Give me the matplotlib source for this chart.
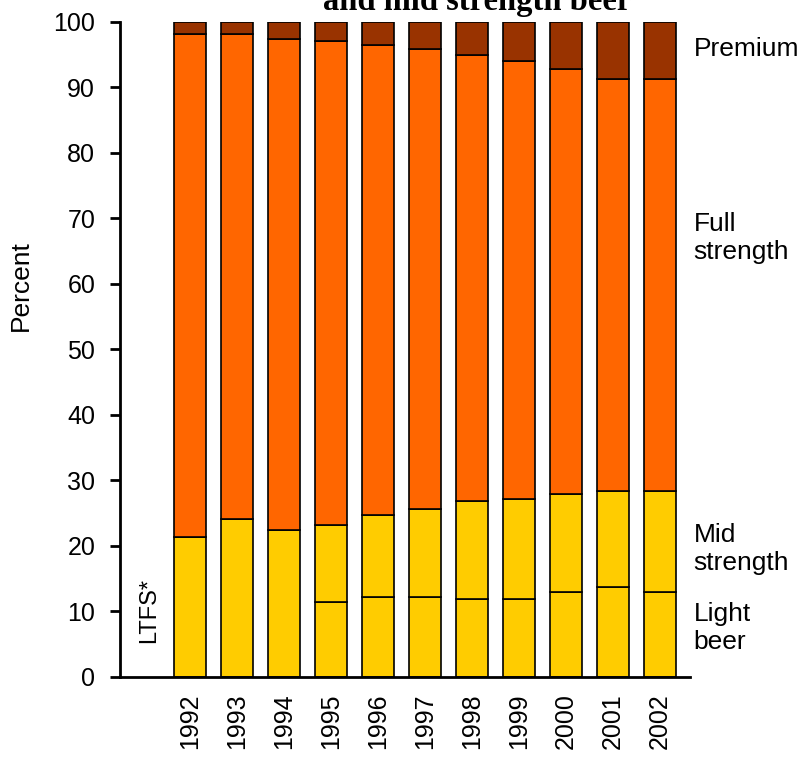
import matplotlib
matplotlib.use('Agg')
import matplotlib.pyplot as plt
import numpy as np

plt.rcParams['font.family'] = ['Liberation Sans', 'DejaVu Sans']

# Datos (porcentaje del volumen)
years = ['1992', '1993', '1994', '1995', '1996', '1997', '1998', '1999', '2000', '2001', '2002']
# 1992-1994: light y mid juntos (LTFS)
light = [21.3, 24.1, 22.5, 11.5, 12.2, 12.2, 11.9, 11.9, 13.0, 13.7, 13.0]
mid = [0.0, 0.0, 0.0, 11.7, 12.5, 13.4, 14.9, 15.2, 15.0, 14.7, 15.4]
full = [76.8, 74.0, 74.9, 73.9, 71.8, 70.3, 68.2, 66.9, 64.8, 62.9, 62.9]
premium = [1.9, 1.9, 2.6, 2.9, 3.5, 4.1, 5.0, 6.0, 7.2, 8.7, 8.7]

c_yellow = '#FFCC00'
c_orange = '#FF6600'
c_brown = '#993300'

fig = plt.figure(figsize=(8.01, 7.58), dpi=100)
ax = fig.add_axes([0.15, 0.107, 0.711, 0.864])

x = np.arange(len(years))
w = 0.68
kw = dict(width=w, edgecolor='black', linewidth=1.2)
b1 = np.array(light)
b2 = b1 + np.array(mid)
b3 = b2 + np.array(full)
ax.bar(x, light, color=c_yellow, **kw)
ax.bar(x, mid, bottom=b1, color=c_yellow, **kw)
ax.bar(x, full, bottom=b2, color=c_orange, **kw)
ax.bar(x, premium, bottom=b3, color=c_brown, **kw)

ax.set_xlim(-1.49, 10.64)
ax.set_ylim(0, 100)
ax.set_yticks(range(0, 101, 10))
ax.set_xticks(x)
ax.set_xticklabels(years, rotation=90, fontsize=18)
ax.tick_params(axis='x', length=0, pad=12)
ax.tick_params(axis='y', length=7, width=2, direction='out', labelsize=18, pad=11)
ax.set_ylabel('Percent', fontsize=19)
ax.yaxis.set_label_coords(-0.153, 0.597)

for s in ['top', 'right']:
    ax.spines[s].set_visible(False)
for s in ['left', 'bottom']:
    ax.spines[s].set_linewidth(2)

# etiquetas laterales
lab_kw = dict(fontsize=19, ha='left', va='center', clip_on=False, linespacing=1.2)
ax.text(10.72, 95.8, 'Premium', **lab_kw)
ax.text(10.72, 67, 'Full\nstrength', **lab_kw)
ax.text(10.72, 19.5, 'Mid\nstrength', **lab_kw)
ax.text(10.72, 7.5, 'Light\nbeer', **lab_kw)
ax.text(-0.88, 10.2, 'LTFS*', rotation=90, fontsize=17, ha='center', va='center')

# titulo cortado arriba
fig.text(477 / 801, 1 - 10 / 758, 'and mid strength beer', ha='center', va='baseline',
         fontsize=23.5, fontweight='bold', family='Liberation Serif')

plt.savefig('out.png', dpi=100)
